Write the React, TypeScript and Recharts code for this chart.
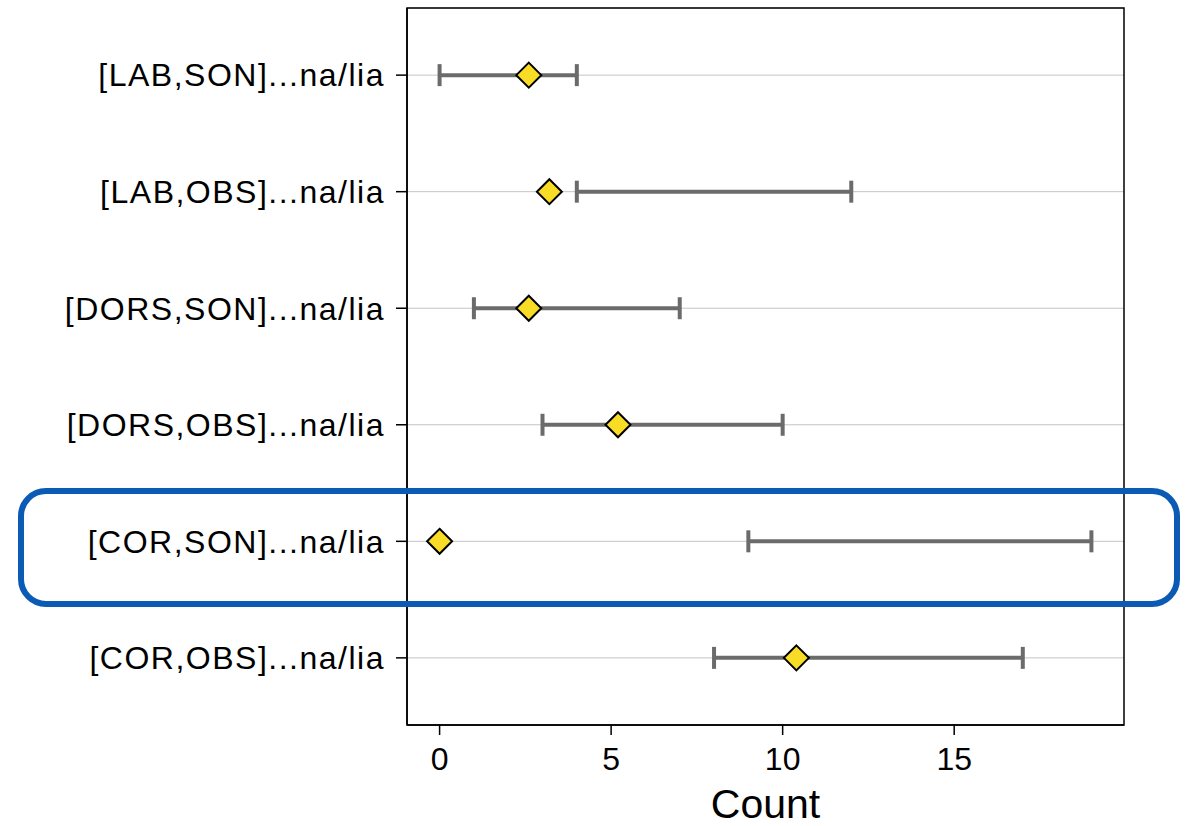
import { ScatterChart, Scatter, XAxis, YAxis, CartesianGrid, ReferenceArea } from 'recharts';

// rows listed top to bottom
const categories = [
  '[LAB,SON]...na/lia',
  '[LAB,OBS]...na/lia',
  '[DORS,SON]...na/lia',
  '[DORS,OBS]...na/lia',
  '[COR,SON]...na/lia',
  '[COR,OBS]...na/lia',
];
const pointValues = [2.6, 3.2, 2.6, 5.2, 0, 10.4];
const rangeLow = [0, 4, 1, 3, 9, 8];
const rangeHigh = [4, 12, 7, 10, 19, 17];
const xTicks = [0, 5, 10, 15];

const X_DOMAIN: [number, number] = [-0.95, 19.95];
const Y_DOMAIN: [number, number] = [-0.576, categories.length - 1 + 0.576];

const BAR_COLOR = '#6b6b6b';
const FONT = '"Liberation Sans", Arial, Helvetica, sans-serif';

const points = pointValues.map((v, i) => ({ x: v, y: i }));
const ranges = categories.map((_, i) => [
  { x: rangeLow[i], y: i },
  { x: rangeHigh[i], y: i },
]);

function Diamond(props: any) {
  const { cx, cy } = props;
  const r = 12.5;
  return (
    <path
      d={`M${cx},${cy - r}L${cx + r},${cy}L${cx},${cy + r}L${cx - r},${cy}Z`}
      fill="#f8dc25"
      stroke="#000"
      strokeWidth={2}
    />
  );
}

function Cap(props: any) {
  const { cx, cy } = props;
  return <line x1={cx} x2={cx} y1={cy - 11} y2={cy + 11} stroke={BAR_COLOR} strokeWidth={4} />;
}

export default function App() {
  return (
    <div style={{ position: 'absolute', left: 0, top: 0, width: 1189, height: 826, background: '#fff', fontFamily: FONT }}>
      <ScatterChart width={1189} height={826} margin={{ top: 8, right: 65, bottom: 0, left: 0 }}>
        <CartesianGrid vertical={false} stroke="#c4c4c4" strokeWidth={1} />
        <XAxis
          type="number"
          dataKey="x"
          domain={X_DOMAIN}
          ticks={xTicks}
          allowDataOverflow
          height={101}
          tickSize={10}
          tickMargin={12}
          tick={{ fontSize: 32, fill: '#000', fontFamily: FONT }}
          tickLine={{ stroke: '#000', strokeWidth: 1.5 }}
          axisLine={{ stroke: '#000', strokeWidth: 1.5 }}
          label={{ value: 'Count', position: 'insideBottom', offset: 8, fontSize: 41, fill: '#000', fontFamily: FONT }}
        />
        <YAxis
          type="number"
          dataKey="y"
          domain={Y_DOMAIN}
          ticks={categories.map((_, i) => i)}
          interval={0}
          reversed
          allowDataOverflow
          width={407}
          tickSize={11}
          tickMargin={11}
          tickFormatter={(v: number) => categories[v] ?? ''}
          tick={{ fontSize: 32, fill: '#000', fontFamily: FONT, letterSpacing: 1.5 }}
          tickLine={{ stroke: '#000', strokeWidth: 1.5 }}
          axisLine={{ stroke: '#000', strokeWidth: 1.5 }}
        />
        <ReferenceArea
          x1={X_DOMAIN[0]}
          x2={X_DOMAIN[1]}
          y1={Y_DOMAIN[0]}
          y2={Y_DOMAIN[1]}
          fill="none"
          stroke="#000"
          strokeWidth={1.5}
        />
        {ranges.map((r, i) => (
          <Scatter
            key={i}
            data={r}
            line={{ stroke: BAR_COLOR, strokeWidth: 4 }}
            shape={Cap}
            isAnimationActive={false}
          />
        ))}
        <Scatter data={points} shape={Diamond} isAnimationActive={false} />
      </ScatterChart>
      <div
        style={{
          position: 'absolute',
          left: 18,
          top: 488,
          width: 1162,
          height: 119,
          border: '6px solid #0b5bb5',
          borderRadius: 28,
          boxSizing: 'border-box',
          pointerEvents: 'none',
        }}
      />
    </div>
  );
}
